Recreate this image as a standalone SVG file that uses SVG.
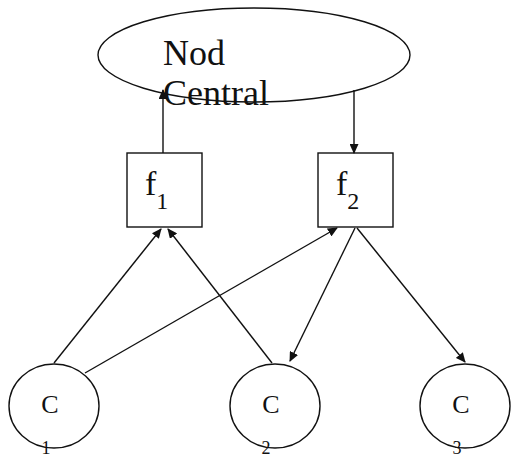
<svg xmlns="http://www.w3.org/2000/svg" width="511" height="459" viewBox="0 0 511 459">
<style>
.s{fill:#fff;stroke:#111;stroke-width:1.4}
.t{font-family:"Liberation Serif","Times New Roman",serif;fill:#111}
.c{stroke:#111;stroke-width:1.4;fill:none;marker-end:url(#a)}
</style>
<defs>
<marker id="a" markerWidth="10" markerHeight="9" refX="9" refY="4.5" orient="auto" markerUnits="userSpaceOnUse">
<path d="M0,0 L10,4.5 L0,9 Z" fill="#111"/>
</marker>
</defs>
<rect width="511" height="459" fill="#fff"/>
<g id="central">
<ellipse class="s" cx="254" cy="55" rx="156" ry="47"/>
</g>
<g id="f1">
<rect class="s" x="127" y="153" width="75" height="74"/>
<text class="t" x="145" y="195" font-size="34">f<tspan font-size="24" dy="14">1</tspan></text>
</g>
<g id="f2">
<rect class="s" x="318" y="153" width="75" height="74"/>
<text class="t" x="336" y="195" font-size="34">f<tspan font-size="24" dy="14">2</tspan></text>
</g>
<g id="c1">
<ellipse class="s" cx="54" cy="406" rx="45" ry="42"/>
<text class="t" x="50" y="413" font-size="26" text-anchor="middle">C</text>
<text class="t" x="46" y="454" font-size="18" text-anchor="middle">1</text>
</g>
<g id="c2">
<ellipse class="s" cx="275" cy="406" rx="45" ry="42"/>
<text class="t" x="271" y="413" font-size="26" text-anchor="middle">C</text>
<text class="t" x="266" y="454" font-size="18" text-anchor="middle">2</text>
</g>
<g id="c3">
<ellipse class="s" cx="465" cy="406" rx="45" ry="42"/>
<text class="t" x="461" y="413" font-size="26" text-anchor="middle">C</text>
<text class="t" x="457" y="454" font-size="18" text-anchor="middle">3</text>
</g>
<g id="connectors">
<line class="c" x1="163" y1="153" x2="163" y2="90"/>
<line class="c" x1="354" y1="90" x2="354" y2="153"/>
<line class="c" x1="54" y1="363" x2="161" y2="229"/>
<line class="c" x1="272" y1="363" x2="168" y2="229"/>
<line class="c" x1="85" y1="373" x2="337" y2="228"/>
<line class="c" x1="355" y1="228" x2="290" y2="361"/>
<line class="c" x1="357" y1="228" x2="465" y2="362"/>
</g>
<g id="label">
<text class="t" x="163" y="65" font-size="36">Nod</text>
<text class="t" x="163" y="105" font-size="36">Central</text>
</g>
</svg>
